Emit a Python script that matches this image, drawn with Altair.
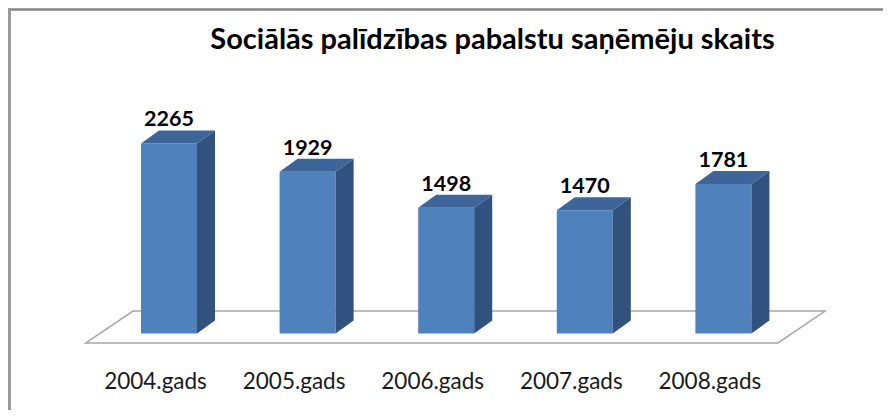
import altair as alt
import pandas as pd

# ---- data ----
years = ["2004.gads", "2005.gads", "2006.gads", "2007.gads", "2008.gads"]
values = [2265, 1929, 1498, 1470, 1781]
title_text = "Sociālās palīdzības pabalstu saņēmēju skaits"

# ---- 3D styling constants (in scale units) ----
HALF_W = 0.202      # half width of the front face (category units)
DEPTH_X = 0.130     # depth offset along x (category units)
DEPTH_Y = 155       # depth offset along y (value units)
FLOOR_FRONT = -113  # floor front edge (value units)
FLOOR_BACK = 268    # floor back edge (value units)
FLOOR_DX = 0.339    # floor depth along x
FLOOR_LEFT = -0.599
FLOOR_RIGHT = 4.394

W, H = 875, 402
X_DOMAIN = [-1.16162, 5.15152]
Y_DOMAIN = [-911.9, 3880.1]

idx = list(range(len(years)))
bars = pd.DataFrame({"i": idx, "year": years, "value": values})
bars["xl"] = bars["i"] - HALF_W
bars["xr"] = bars["i"] + HALF_W
bars["zero"] = 0

side_rows, top_rows = [], []
for i, y, v in zip(idx, years, values):
    xr = i + HALF_W
    xl = i - HALF_W
    side_rows += [
        {"year": y, "x": xr, "y": v, "y2": 0},
        {"year": y, "x": xr + DEPTH_X, "y": v + DEPTH_Y, "y2": DEPTH_Y},
    ]
    top_rows += [
        {"year": y, "x": xl, "y": v, "y2": v},
        {"year": y, "x": xl + DEPTH_X, "y": v + DEPTH_Y, "y2": v},
        {"year": y, "x": xr, "y": v + DEPTH_Y, "y2": v},
        {"year": y, "x": xr + DEPTH_X, "y": v + DEPTH_Y, "y2": v + DEPTH_Y},
    ]
side = pd.DataFrame(side_rows)
top = pd.DataFrame(top_rows)

floor = pd.DataFrame({
    "x": [FLOOR_LEFT, FLOOR_LEFT + FLOOR_DX, FLOOR_RIGHT, FLOOR_RIGHT + FLOOR_DX],
    "y": [FLOOR_FRONT, FLOOR_BACK, FLOOR_BACK, FLOOR_BACK],
    "y2": [FLOOR_FRONT, FLOOR_FRONT, FLOOR_FRONT, FLOOR_BACK],
})

xs = alt.Scale(domain=X_DOMAIN, nice=False, zero=False)
ys = alt.Scale(domain=Y_DOMAIN, nice=False, zero=False)

def X(f):
    return alt.X(f, type="quantitative", scale=xs, axis=None)

def Y(f):
    return alt.Y(f, type="quantitative", scale=ys, axis=None, stack=False)

floor_layer = alt.Chart(floor).mark_area(
    fill="white", stroke="#a6a6a6", strokeWidth=1.5
).encode(x=X("x"), y=Y("y"), y2="y2")

front_layer = alt.Chart(bars).mark_rect(color="#4f81bd").encode(
    x=X("xl"), x2="xr", y=Y("value"), y2="zero"
)

side_layer = alt.Chart(side).mark_area(color="#31527f").encode(
    x=X("x"), y=Y("y"), y2="y2", detail="year:N"
)

top_layer = alt.Chart(top).mark_area(color="#3d6599").encode(
    x=X("x"), y=Y("y"), y2="y2", detail="year:N"
)

value_labels = alt.Chart(bars).mark_text(
    font="Lato", fontSize=21.5, fontWeight="bold", color="black",
    baseline="middle", dy=-23
).encode(x=X("i"), y=Y("value"), text="value:Q")

cat_labels = alt.Chart(bars).mark_text(
    font="Lato", fontSize=22.5, color="#1a1a1a", baseline="middle", dx=-13.5
).encode(x=X("i"), y=alt.value(374), text="year:N")

frame_top = alt.Chart(bars).mark_rule(color="#888888", strokeWidth=1.5).encode(
    x=alt.value(0), x2=alt.value(W), y=alt.value(1.5)
)
frame_left = alt.Chart(bars).mark_rule(color="#9a9a9a", strokeWidth=2.5).encode(
    x=alt.value(1.2), y=alt.value(0), y2=alt.value(H)
)

chart = alt.layer(
    floor_layer, front_layer, side_layer, top_layer,
    value_labels, cat_labels, frame_top, frame_left
).properties(
    width=W, height=H,
    autosize=alt.AutoSizeParams(type="none"),
    padding=0,
    title=alt.TitleParams(
        title_text, font="Lato", fontSize=29, fontWeight="bold", color="black",
        anchor="middle", baseline="alphabetic", offset=0, dx=47, dy=71
    ),
).configure_view(strokeWidth=0)

chart.save("out.html", embed_options={"renderer": "svg", "actions": False})
